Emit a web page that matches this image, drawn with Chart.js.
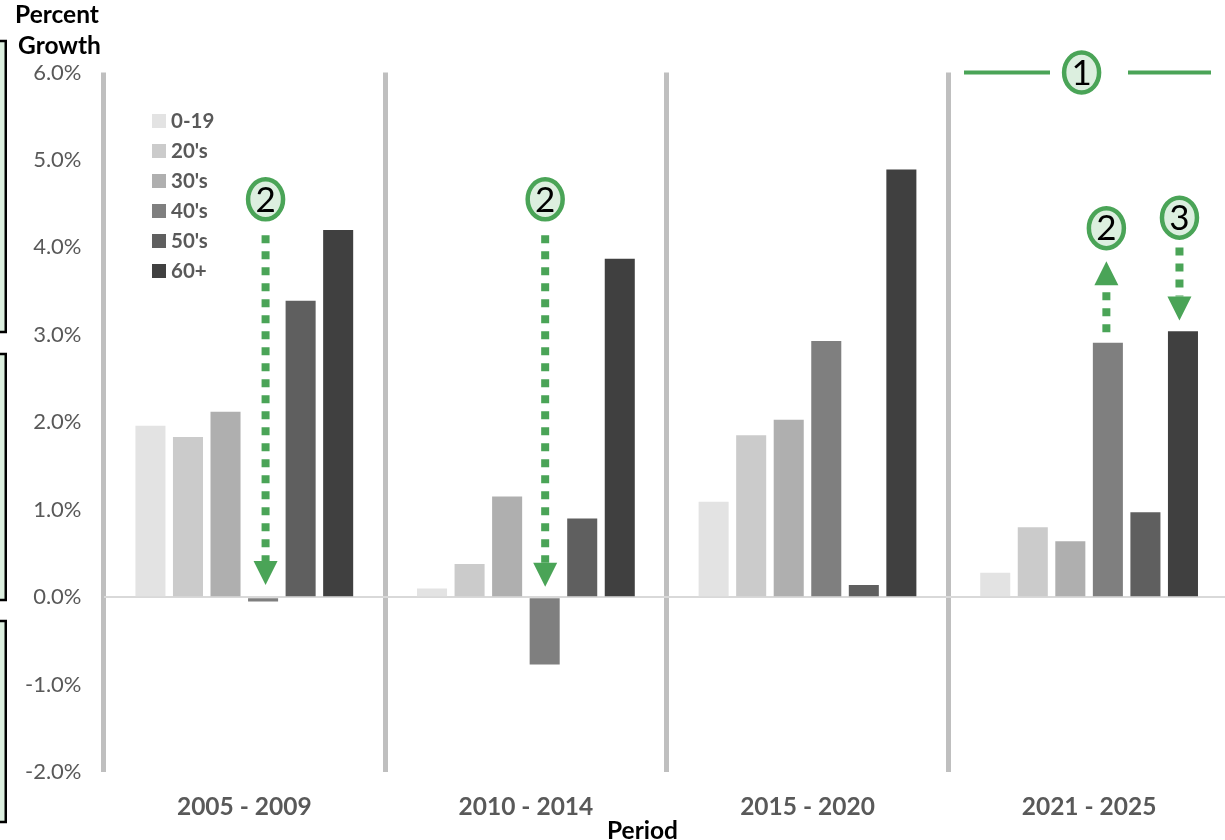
<!DOCTYPE html>
<html>
<head>
<meta charset="utf-8">
<style>
  html, body { margin: 0; padding: 0; background: #fff; overflow: hidden; }
  #wrap { position: absolute; left: 0; top: 0; width: 1240px; height: 840px; }
</style>
<script src="https://cdn.jsdelivr.net/npm/chart.js@4"></script>
</head>
<body>
<div id="wrap"><canvas id="growthChart" width="1240" height="840"></canvas></div>
<script>
const periods = ['2005 - 2009', '2010 - 2014', '2015 - 2020', '2021 - 2025'];
const ageGroups = ['0-19', "20's", "30's", "40's", "50's", '60+'];
const ageColors = ['#e3e3e3', '#cbcbcb', '#afafaf', '#7f7f7f', '#5f5f5f', '#404040'];

const growth0to19 = [1.96, 0.10, 1.09, 0.28];
const growth20s = [1.83, 0.38, 1.85, 0.80];
const growth30s = [2.12, 1.15, 2.03, 0.64];
const growth40s = [-0.05, -0.77, 2.93, 2.91];
const growth50s = [3.39, 0.90, 0.14, 0.97];
const growth60s = [4.20, 3.87, 4.89, 3.04];

const seriesValues = [growth0to19, growth20s, growth30s, growth40s, growth50s, growth60s];

const FONT = 'Lato, "Open Sans", sans-serif';
const GREEN = '#4aa457';
const PALE = '#dcefdf';

// dotted arrows: period and bar they sit over, start and tip on the y scale, nudge in px
const arrows = [
  { period: 0, bar: 3, from: 4.14, to: 0.14, dir: 'down', nudge: 2.5 },
  { period: 1, bar: 3, from: 4.14, to: 0.12, dir: 'down', nudge: 0.5 },
  { period: 3, bar: 3, from: 3.03, to: 3.84, dir: 'up', nudge: -1.5 },
  { period: 3, bar: 5, from: 4.00, to: 3.165, dir: 'down', nudge: -3.5 }
];
const badges = [
  { text: '2', period: 0, bar: 3, value: 4.55, nudge: 2.5 },
  { text: '2', period: 1, bar: 3, value: 4.55, nudge: 0.5 },
  { text: '2', period: 3, bar: 3, value: 4.22, nudge: -1.5 },
  { text: '3', period: 3, bar: 5, value: 4.34, nudge: -3.5 },
  { text: '1', period: 3, bar: 2.3, value: 6, nudge: 0 }
];
const sideBoxes = [[41, 332], [354, 600], [621, 822]];

function barX(chart, period, bar) {
  const whole = Math.floor(bar);
  const a = chart.getDatasetMeta(whole).data[period].x;
  if (bar === whole) return a;
  return a + (bar - whole) * (chart.getDatasetMeta(whole + 1).data[period].x - a);
}

function drawBadge(ctx, x, y, text) {
  ctx.beginPath();
  ctx.ellipse(x, y, 17.5, 20, 0, 0, Math.PI * 2);
  ctx.fillStyle = PALE;
  ctx.fill();
  ctx.lineWidth = 4.5;
  ctx.strokeStyle = GREEN;
  ctx.stroke();
  ctx.fillStyle = '#000';
  ctx.font = '35px ' + FONT;
  ctx.textAlign = 'center';
  ctx.textBaseline = 'middle';
  ctx.fillText(text, x, y + 1);
}

function drawArrow(ctx, x, yFrom, yTo, dir) {
  const sign = dir === 'down' ? 1 : -1;
  const headLen = 24;
  ctx.save();
  ctx.strokeStyle = GREEN;
  ctx.lineWidth = 8;
  ctx.setLineDash([8, 8]);
  ctx.beginPath();
  ctx.moveTo(x, yFrom);
  ctx.lineTo(x, yTo - sign * headLen);
  ctx.stroke();
  ctx.restore();
  ctx.beginPath();
  ctx.moveTo(x, yTo);
  ctx.lineTo(x - 12, yTo - sign * headLen);
  ctx.lineTo(x + 12, yTo - sign * headLen);
  ctx.closePath();
  ctx.fillStyle = GREEN;
  ctx.fill();
}

// legend, axis captions and callouts on top of the bars
const overlayPlugin = {
  id: 'overlay',
  afterDraw(chart) {
    const ctx = chart.ctx;
    const yScale = chart.scales.y;
    ctx.save();

    // boxes running along the left edge
    sideBoxes.forEach(([top, bottom]) => {
      ctx.fillStyle = PALE;
      ctx.strokeStyle = '#000';
      ctx.lineWidth = 2.5;
      ctx.fillRect(-4, top, 9.75, bottom - top);
      ctx.strokeRect(-4, top, 9.75, bottom - top);
    });

    ctx.textBaseline = 'middle';
    ctx.textAlign = 'left';
    ctx.font = 'bold 20.5px ' + FONT;
    ageGroups.forEach((name, i) => {
      const y = 121 + i * 30;
      ctx.fillStyle = ageColors[i];
      ctx.fillRect(152, y - 7, 14, 14);
      ctx.fillStyle = '#595959';
      ctx.fillText(name, 171, y);
    });

    ctx.fillStyle = '#000';
    ctx.textAlign = 'center';
    ctx.font = 'bold 24.5px ' + FONT;
    ctx.fillText('Percent', 57, 15);
    ctx.fillText('Growth', 59.5, 46);
    ctx.fillText('Period', 642.5, 831);

    arrows.forEach(a => {
      drawArrow(ctx, barX(chart, a.period, a.bar) + a.nudge,
        yScale.getPixelForValue(a.from), yScale.getPixelForValue(a.to), a.dir);
    });

    // bracket over the last period
    const bracketY = yScale.getPixelForValue(6);
    ctx.strokeStyle = GREEN;
    ctx.lineWidth = 4;
    ctx.beginPath();
    ctx.moveTo(964, bracketY);
    ctx.lineTo(1050, bracketY);
    ctx.moveTo(1128, bracketY);
    ctx.lineTo(1211, bracketY);
    ctx.stroke();

    badges.forEach(b => {
      drawBadge(ctx, barX(chart, b.period, b.bar) + b.nudge, yScale.getPixelForValue(b.value), b.text);
    });
    ctx.restore();
  }
};

new Chart(document.getElementById('growthChart'), {
  type: 'bar',
  data: {
    labels: periods,
    datasets: ageGroups.map((name, i) => ({
      label: name,
      data: seriesValues[i],
      backgroundColor: ageColors[i],
      categoryPercentage: 0.8,
      barPercentage: 0.8
    }))
  },
  options: {
    responsive: false,
    animation: false,
    layout: { padding: { left: 0, right: 10.1, top: 72.5, bottom: 0 } },
    plugins: {
      legend: { display: false },
      tooltip: { enabled: false },
      title: { display: false }
    },
    scales: {
      x: {
        offset: true,
        afterFit(scale) { scale.height = 68; },
        grid: { offset: true, color: '#bfbfbf', lineWidth: 5, drawTicks: false },
        border: { display: false },
        ticks: { color: '#595959', font: { family: FONT, size: 24.5, weight: 'bold' }, padding: 20, maxRotation: 0 }
      },
      y: {
        min: -2,
        max: 6,
        afterFit(scale) { scale.width = 103.5; },
        grid: {
          color: c => (c.tick && c.tick.value === 0 ? '#d9d9d9' : 'rgba(0,0,0,0)'),
          lineWidth: 2,
          drawTicks: false
        },
        border: { display: false },
        ticks: {
          stepSize: 1,
          color: '#595959',
          padding: 22,
          font: { family: FONT, size: 22 },
          callback: v => v.toFixed(1) + '%'
        }
      }
    }
  },
  plugins: [overlayPlugin]
});
</script>
</body>
</html>
